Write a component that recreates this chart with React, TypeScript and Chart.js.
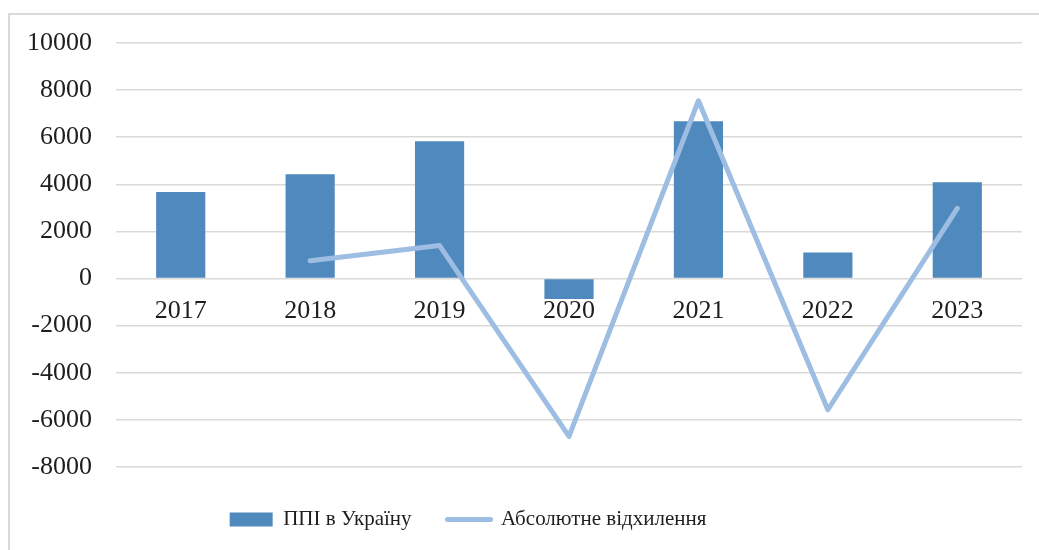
import React, { useEffect, useRef } from "react";
import { Chart, registerables } from "chart.js";

Chart.register(...registerables);

const years = ["2017", "2018", "2019", "2020", "2021", "2022", "2023"];
const ppiValues = [3670, 4430, 5830, -870, 6680, 1110, 4090];
const deviationValues = [null, 760, 1400, -6700, 7550, -5570, 2980];
const seriesNames = ["ППІ в Україну", "Абсолютне відхилення"];
const yMin = -8000;
const yMax = 10000;
const yStep = 2000;

const BAR_COLOR = "#4f89bd";
const LINE_COLOR = "#9dbde2";
const GRID_COLOR = "#d9d9d9";
const TEXT_COLOR = "#1e1e1e";
const FONT_FAMILY = "'Liberation Serif', 'Times New Roman', serif";

const framePlugin = {
  id: "frame",
  beforeDraw(chart: any) {
    const ctx = chart.ctx;
    ctx.save();
    ctx.fillStyle = "#ffffff";
    ctx.fillRect(0, 0, chart.width, chart.height);
    ctx.strokeStyle = GRID_COLOR;
    ctx.lineWidth = 2;
    ctx.strokeRect(9, 14, chart.width + 40, chart.height + 40);
    ctx.restore();
  },
  afterLayout(chart: any) {
    const lg = chart.legend;
    if (!lg) return;
    const dx = -43;
    const dy = 6;
    lg.left += dx;
    lg.right += dx;
    lg.top += dy;
    lg.bottom += dy;
  },
};

export default function App() {
  const canvasRef = useRef<HTMLCanvasElement | null>(null);

  useEffect(() => {
    if (!canvasRef.current) return;
    const defaultGen = (Chart as any).defaults.plugins.legend.labels.generateLabels;
    const chart = new Chart(canvasRef.current, {
      type: "bar",
      data: {
        labels: years,
        datasets: [
          {
            type: "bar",
            label: seriesNames[0],
            data: ppiValues,
            backgroundColor: BAR_COLOR,
            borderWidth: 0,
            categoryPercentage: 1,
            barPercentage: 0.38,
            order: 1,
          } as any,
          {
            type: "line",
            label: seriesNames[1],
            data: deviationValues,
            borderColor: LINE_COLOR,
            backgroundColor: LINE_COLOR,
            borderWidth: 5,
            borderCapStyle: "round",
            borderJoinStyle: "round",
            pointRadius: 0,
            pointHoverRadius: 0,
            tension: 0,
            fill: false,
            order: 0,
          } as any,
        ],
      },
      options: {
        responsive: false,
        animation: false,
        devicePixelRatio: 1,
        layout: { padding: { left: 0, right: 17, top: 43, bottom: 16 } },
        plugins: {
          tooltip: { enabled: false },
          legend: {
            position: "bottom",
            labels: {
              usePointStyle: true,
              pointStyleWidth: 43,
              boxHeight: 14,
              padding: 36,
              color: TEXT_COLOR,
              font: { family: FONT_FAMILY, size: 21 },
              generateLabels: (c: any) =>
                defaultGen(c)
                  .sort((a: any, b: any) => a.datasetIndex - b.datasetIndex)
                  .map((it: any) => ({
                    ...it,
                    pointStyle: it.datasetIndex === 0 ? "rect" : "line",
                    lineWidth: it.datasetIndex === 0 ? 0 : 5,
                    lineCap: it.datasetIndex === 0 ? "butt" : "round",
                  })),
            },
          },
        },
        scales: {
          x: {
            position: { y: 0 } as any,
            grid: { display: false, drawTicks: false },
            border: { display: false },
            ticks: {
              color: TEXT_COLOR,
              font: { family: FONT_FAMILY, size: 26 },
              padding: 17,
              maxRotation: 0,
            },
            afterFit: (s: any) => {
              s.height = 0;
            },
          },
          y: {
            min: yMin,
            max: yMax,
            grid: { color: GRID_COLOR, lineWidth: 1.5, drawTicks: false },
            border: { display: false },
            ticks: {
              stepSize: yStep,
              color: TEXT_COLOR,
              font: { family: FONT_FAMILY, size: 26 },
              padding: 24,
              callback: (v: any) => String(v),
            },
            afterFit: (s: any) => {
              s.width = 116;
            },
          },
        },
      } as any,
      plugins: [framePlugin],
    });
    return () => chart.destroy();
  }, []);

  return (
    <div style={{ position: "absolute", left: 0, top: 0, width: 1039, height: 550 }}>
      <canvas ref={canvasRef} width={1039} height={550} />
    </div>
  );
}
